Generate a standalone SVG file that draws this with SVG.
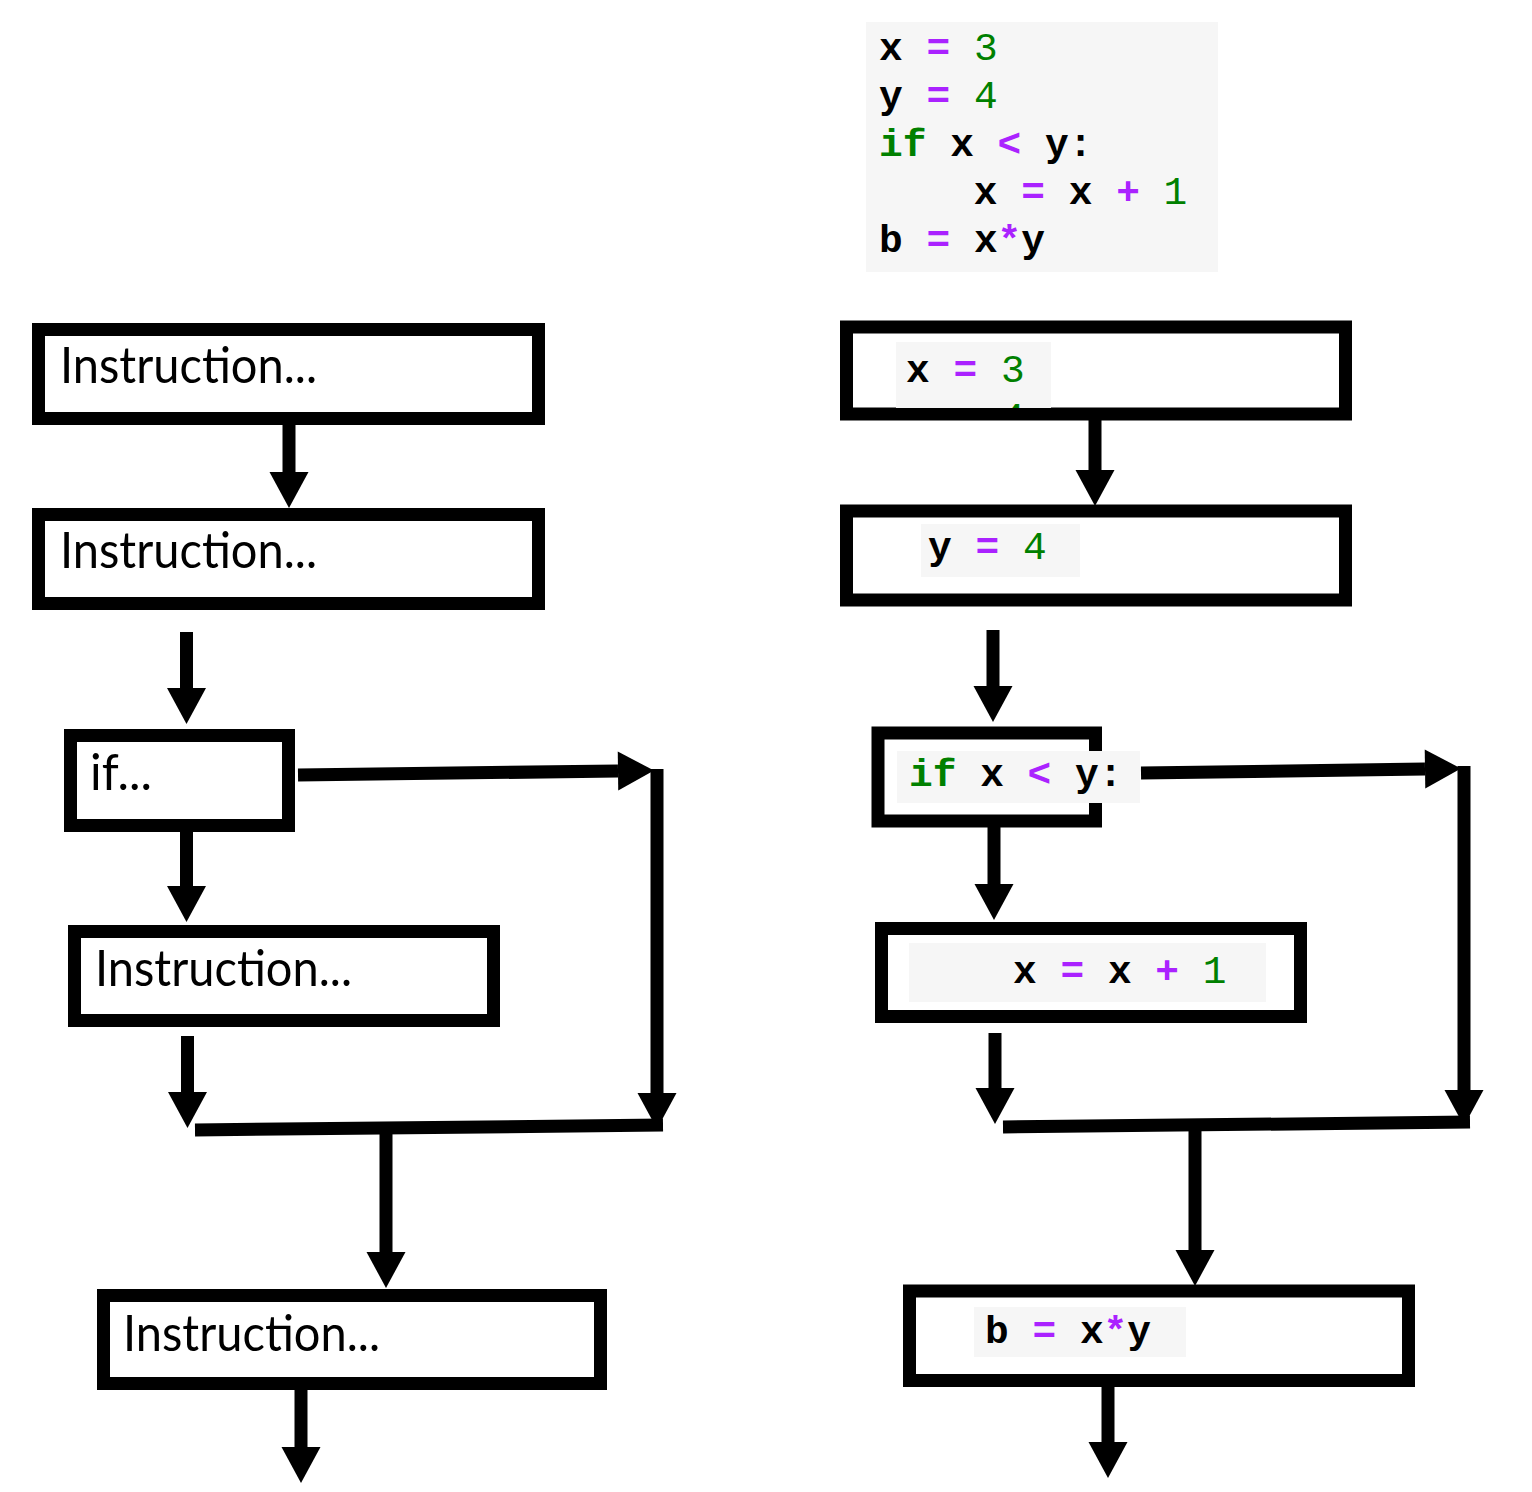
<svg xmlns="http://www.w3.org/2000/svg" width="1532" height="1492" viewBox="0 0 1532 1492">
<style>
.box{fill:#fff;stroke:#000;stroke-width:13}
.lbl{font-family:Lato,"Liberation Sans",sans-serif;font-size:50px;fill:#000}
.code{font-family:"Liberation Mono","Courier New",monospace;font-size:39.5px;fill:#000}
.v{fill:#000;font-weight:bold}
.o{fill:#AA22FF;font-weight:bold}
.n{fill:#008000}
.k{fill:#008000;font-weight:bold}
.bg{fill:#f6f6f6}
.c{fill:none;stroke:#000;stroke-width:13;marker-end:url(#ah)}
.cn{fill:none;stroke:#000;stroke-width:13}
</style>
<defs>
<marker id="ah" viewBox="0 0 36 39" refX="0" refY="19.5" markerWidth="36" markerHeight="39" markerUnits="userSpaceOnUse" orient="auto" overflow="visible">
<path d="M0,0 L36,19.5 L0,39 z" fill="#000"/>
</marker>
<clipPath id="clipR1"><rect x="896" y="342" width="155" height="66"/></clipPath>
</defs>
<rect width="1532" height="1492" fill="#fff"/>

<g id="code-listing">
<rect class="bg" x="866" y="22" width="352" height="250"/>
<text class="code" x="879" y="60" xml:space="preserve"><tspan class="v">x</tspan> <tspan class="o">=</tspan> <tspan class="n">3</tspan></text>
<text class="code" x="879" y="108" xml:space="preserve"><tspan class="v">y</tspan> <tspan class="o">=</tspan> <tspan class="n">4</tspan></text>
<text class="code" x="879" y="156" xml:space="preserve"><tspan class="k">if</tspan> <tspan class="v">x</tspan> <tspan class="o">&lt;</tspan> <tspan class="v">y:</tspan></text>
<text class="code" x="879" y="204" xml:space="preserve">    <tspan class="v">x</tspan> <tspan class="o">=</tspan> <tspan class="v">x</tspan> <tspan class="o">+</tspan> <tspan class="n">1</tspan></text>
<text class="code" x="879" y="252" xml:space="preserve"><tspan class="v">b</tspan> <tspan class="o">=</tspan> <tspan class="v">x</tspan><tspan class="o">*</tspan><tspan class="v">y</tspan></text>
</g>

<g id="connectors">
<!-- left column -->
<line class="c" x1="289" y1="424" x2="289" y2="472"/>
<line class="c" x1="186.5" y1="632" x2="186.5" y2="688"/>
<line class="c" x1="186.5" y1="830" x2="186.5" y2="886"/>
<line class="c" x1="298" y1="775" x2="618" y2="771"/>
<line class="c" x1="657" y1="769" x2="657" y2="1093"/>
<line class="c" x1="187.5" y1="1036" x2="187.5" y2="1092"/>
<line class="cn" x1="195" y1="1130" x2="663" y2="1125"/>
<line class="c" x1="386" y1="1128" x2="386" y2="1252"/>
<line class="c" x1="301" y1="1388" x2="301" y2="1447"/>
<!-- right column -->
<line class="c" x1="1095" y1="418" x2="1095" y2="470"/>
<line class="c" x1="993" y1="630" x2="993" y2="686"/>
<line class="c" x1="1141" y1="773" x2="1425" y2="769"/>
<line class="c" x1="1464" y1="766" x2="1464" y2="1090"/>
<line class="c" x1="994" y1="826" x2="994" y2="884"/>
<line class="c" x1="995" y1="1033" x2="995" y2="1088"/>
<line class="cn" x1="1003" y1="1127" x2="1470" y2="1122"/>
<line class="c" x1="1195" y1="1125" x2="1195" y2="1250"/>
<line class="c" x1="1108" y1="1385" x2="1108" y2="1442"/>
</g>

<g id="L1">
<rect class="box" x="38.5" y="329.5" width="500" height="89"/>
<text class="lbl" x="60" y="383" textLength="257" lengthAdjust="spacingAndGlyphs">Instruction...</text>
</g>
<g id="L2">
<rect class="box" x="38.5" y="514.5" width="500" height="89"/>
<text class="lbl" x="60" y="568" textLength="257" lengthAdjust="spacingAndGlyphs">Instruction...</text>
</g>
<g id="L-if">
<rect class="box" x="70.5" y="735.5" width="218" height="90"/>
<text class="lbl" x="90" y="790" textLength="62" lengthAdjust="spacingAndGlyphs">if...</text>
</g>
<g id="L3">
<rect class="box" x="74.5" y="931.5" width="419" height="89"/>
<text class="lbl" x="95" y="986" textLength="257" lengthAdjust="spacingAndGlyphs">Instruction...</text>
</g>
<g id="L4">
<rect class="box" x="103.5" y="1295.5" width="497" height="88"/>
<text class="lbl" x="123" y="1351" textLength="257" lengthAdjust="spacingAndGlyphs">Instruction...</text>
</g>

<g id="R1">
<rect class="box" x="846.5" y="327" width="499" height="87"/>
<g clip-path="url(#clipR1)">
<rect class="bg" x="896" y="342" width="155" height="66"/>
<text class="code" x="906" y="382" xml:space="preserve"><tspan class="v">x</tspan> <tspan class="o">=</tspan> <tspan class="n">3</tspan></text>
<text class="code" x="906" y="430" xml:space="preserve"><tspan class="v">y</tspan> <tspan class="o">=</tspan> <tspan class="n">4</tspan></text>
</g>
</g>
<g id="R2">
<rect class="box" x="846.5" y="511" width="499" height="89"/>
<rect class="bg" x="921" y="524" width="159" height="53"/>
<text class="code" x="928" y="559" xml:space="preserve"><tspan class="v">y</tspan> <tspan class="o">=</tspan> <tspan class="n">4</tspan></text>
</g>
<g id="R-if">
<rect class="box" x="878" y="733" width="217.5" height="88"/>
<rect class="bg" x="897" y="751" width="243" height="52"/>
<text class="code" x="909" y="786" xml:space="preserve"><tspan class="k">if</tspan> <tspan class="v">x</tspan> <tspan class="o">&lt;</tspan> <tspan class="v">y:</tspan></text>
</g>
<g id="R3">
<rect class="box" x="881.5" y="928.5" width="419" height="88"/>
<rect class="bg" x="909" y="943" width="357" height="59"/>
<text class="code" x="1013" y="983" xml:space="preserve"><tspan class="v">x</tspan> <tspan class="o">=</tspan> <tspan class="v">x</tspan> <tspan class="o">+</tspan> <tspan class="n">1</tspan></text>
</g>
<g id="R4">
<rect class="box" x="909.5" y="1291" width="499" height="89.5"/>
<rect class="bg" x="974" y="1307" width="212" height="50"/>
<text class="code" x="985" y="1343" xml:space="preserve"><tspan class="v">b</tspan> <tspan class="o">=</tspan> <tspan class="v">x</tspan><tspan class="o">*</tspan><tspan class="v">y</tspan></text>
</g>
</svg>
